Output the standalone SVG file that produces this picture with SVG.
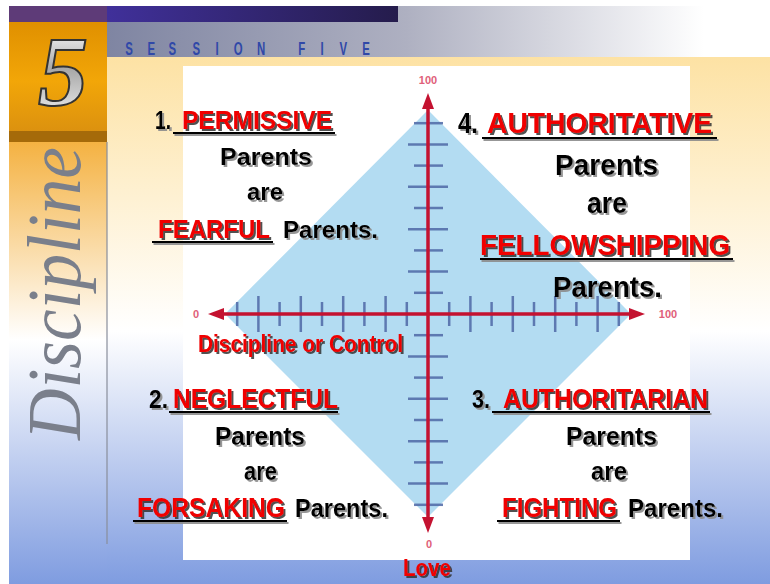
<svg xmlns="http://www.w3.org/2000/svg" width="770" height="584" viewBox="0 0 770 584">
<defs>
<linearGradient id="gMain" x1="0" y1="57" x2="0" y2="584" gradientUnits="userSpaceOnUse">
<stop offset="0" stop-color="#fde2a4"/><stop offset="0.52" stop-color="#ffffff"/><stop offset="1" stop-color="#7f9ce0"/>
</linearGradient>
<linearGradient id="gSide" x1="0" y1="140" x2="0" y2="584" gradientUnits="userSpaceOnUse">
<stop offset="0" stop-color="#f4b140"/><stop offset="0.45" stop-color="#ffffff"/><stop offset="1" stop-color="#7f9ce0"/>
</linearGradient>
<linearGradient id="gGray" x1="107" y1="0" x2="770" y2="0" gradientUnits="userSpaceOnUse">
<stop offset="0" stop-color="#7f85a2"/><stop offset="0.45" stop-color="#aeb0c1"/><stop offset="0.9" stop-color="#ffffff"/>
</linearGradient>
<linearGradient id="gPurp" x1="107" y1="0" x2="398" y2="0" gradientUnits="userSpaceOnUse">
<stop offset="0" stop-color="#40309a"/><stop offset="1" stop-color="#251c4c"/>
</linearGradient>
<linearGradient id="gOrange" x1="0" y1="22" x2="0" y2="140" gradientUnits="userSpaceOnUse">
<stop offset="0" stop-color="#e09000"/><stop offset="0.5" stop-color="#f2a608"/><stop offset="1" stop-color="#d88e10"/>
</linearGradient>
<linearGradient id="gSilver" x1="0" y1="30" x2="0" y2="108" gradientUnits="userSpaceOnUse">
<stop offset="0" stop-color="#f4f4f4"/><stop offset="0.5" stop-color="#a8a8a8"/><stop offset="1" stop-color="#e0e0e0"/>
</linearGradient>
<filter id="shR" x="-5%" y="-20%" width="115%" height="160%">
<feDropShadow dx="2" dy="2" stdDeviation="0.5" flood-color="#333333" flood-opacity="0.85"/>
</filter>
<filter id="shK" x="-5%" y="-20%" width="115%" height="160%">
<feDropShadow dx="2" dy="2" stdDeviation="0.6" flood-color="#8c8c8c" flood-opacity="0.9"/>
</filter>
<filter id="shU" filterUnits="userSpaceOnUse" x="0" y="0" width="770" height="584">
<feDropShadow dx="1.5" dy="2" stdDeviation="0.5" flood-color="#8c8c8c" flood-opacity="0.9"/>
</filter>
<marker id="arr" viewBox="0 0 16 12" refX="0" refY="6" markerWidth="16" markerHeight="12" markerUnits="userSpaceOnUse" orient="auto-start-reverse">
<path d="M0,0 L16,6 L0,12 z" fill="#c41230"/>
</marker>
<style>
.r{font-family:"Liberation Sans Narrow","Liberation Sans",Arial,sans-serif;font-weight:bold;fill:#f00000;filter:url(#shR)}
.k{font-family:"Liberation Sans Narrow","Liberation Sans",Arial,sans-serif;font-weight:bold;fill:#000000;filter:url(#shK)}
.ul{fill:#000000;filter:url(#shU)}
.num{font-family:"Liberation Sans Narrow","Liberation Sans",Arial,sans-serif;font-weight:bold;fill:#e0607a;font-size:11px;text-anchor:middle}
.tk{stroke:#4d67a6;stroke-width:2.5;stroke-opacity:0.85}
.ax{stroke:#c41230;stroke-width:3.5;marker-start:url(#arr);marker-end:url(#arr)}
</style>
</defs>

<g id="background">
<rect x="0" y="0" width="770" height="584" fill="#ffffff"/>
<rect x="107" y="57" width="663" height="527" fill="url(#gMain)"/>
<rect x="9" y="140" width="98" height="444" fill="url(#gSide)"/>
<rect x="107" y="6" width="663" height="51" fill="url(#gGray)"/>
<rect x="9" y="6" width="98" height="16" fill="#5e3b78"/>
<rect x="107" y="6" width="291" height="16" fill="url(#gPurp)"/>
<rect x="9" y="22" width="98" height="110" fill="url(#gOrange)"/>
<rect x="9" y="131" width="98" height="11" fill="#a56a0a"/>
<line x1="107" y1="142" x2="107" y2="544" stroke="#8a8f9c" stroke-width="1.5" stroke-opacity="0.8"/>
<rect x="183" y="66" width="507" height="494" fill="#ffffff"/>
</g>

<g id="header">
<text transform="scale(0.6,1)" x="215 252 287 327 362 397 435 468 503 537 572 610" y="55" font-family="'Liberation Sans Narrow','Liberation Sans',Arial,sans-serif" font-weight="bold" font-size="19" fill="#3048a8" text-anchor="middle">SESSION FIVE</text>
<text x="63" y="105" font-family="'Liberation Serif','Times New Roman',serif" font-style="italic" font-weight="bold" font-size="100" fill="url(#gSilver)" stroke="#333333" stroke-width="2" text-anchor="middle">5</text>
</g>

<g id="sidebar">
<text transform="translate(80,440) rotate(-90)" x="0" y="0" font-family="'Liberation Serif','Times New Roman',serif" font-style="italic" font-size="76" fill="#7a7f8b" textLength="293" lengthAdjust="spacingAndGlyphs">Discipline</text>
</g>

<g id="chart">
<polygon points="428,110 631,314 428,517 225,314" fill="#b3dcf2"/>
<g id="ticks-h">
<line class="tk" x1="237.2" y1="302" x2="237.2" y2="326"/>
<line class="tk" x1="258.4" y1="296" x2="258.4" y2="332"/>
<line class="tk" x1="279.6" y1="302" x2="279.6" y2="326"/>
<line class="tk" x1="300.8" y1="296" x2="300.8" y2="332"/>
<line class="tk" x1="322" y1="302" x2="322" y2="326"/>
<line class="tk" x1="343.2" y1="296" x2="343.2" y2="332"/>
<line class="tk" x1="364.4" y1="302" x2="364.4" y2="326"/>
<line class="tk" x1="385.6" y1="296" x2="385.6" y2="332"/>
<line class="tk" x1="406.8" y1="302" x2="406.8" y2="326"/>
<line class="tk" x1="449.2" y1="302" x2="449.2" y2="326"/>
<line class="tk" x1="470.4" y1="296" x2="470.4" y2="332"/>
<line class="tk" x1="491.6" y1="302" x2="491.6" y2="326"/>
<line class="tk" x1="512.8" y1="296" x2="512.8" y2="332"/>
<line class="tk" x1="534" y1="302" x2="534" y2="326"/>
<line class="tk" x1="555.2" y1="296" x2="555.2" y2="332"/>
<line class="tk" x1="576.4" y1="302" x2="576.4" y2="326"/>
<line class="tk" x1="597.6" y1="296" x2="597.6" y2="332"/>
<line class="tk" x1="618.8" y1="302" x2="618.8" y2="326"/>
</g>
<g id="ticks-v">
<line class="tk" x1="414" y1="123.2" x2="443" y2="123.2"/>
<line class="tk" x1="408" y1="144.4" x2="448" y2="144.4"/>
<line class="tk" x1="414" y1="165.6" x2="443" y2="165.6"/>
<line class="tk" x1="408" y1="186.8" x2="448" y2="186.8"/>
<line class="tk" x1="414" y1="208" x2="443" y2="208"/>
<line class="tk" x1="408" y1="229.2" x2="448" y2="229.2"/>
<line class="tk" x1="414" y1="250.4" x2="443" y2="250.4"/>
<line class="tk" x1="408" y1="271.6" x2="448" y2="271.6"/>
<line class="tk" x1="414" y1="292.8" x2="443" y2="292.8"/>
<line class="tk" x1="414" y1="335.2" x2="443" y2="335.2"/>
<line class="tk" x1="408" y1="356.4" x2="448" y2="356.4"/>
<line class="tk" x1="414" y1="377.6" x2="443" y2="377.6"/>
<line class="tk" x1="408" y1="398.8" x2="448" y2="398.8"/>
<line class="tk" x1="414" y1="420" x2="443" y2="420"/>
<line class="tk" x1="408" y1="441.2" x2="448" y2="441.2"/>
<line class="tk" x1="414" y1="462.4" x2="443" y2="462.4"/>
<line class="tk" x1="408" y1="483.6" x2="448" y2="483.6"/>
<line class="tk" x1="414" y1="504.8" x2="443" y2="504.8"/>
</g>
</g>

<g id="connectors">
<line class="ax" x1="224" y1="314" x2="629" y2="314"/>
<line class="ax" x1="428" y1="109" x2="428" y2="517"/>
</g>

<g id="axis-labels">
<text class="num" x="428" y="84">100</text>
<text class="num" x="196" y="318">0</text>
<text class="num" x="668" y="318">100</text>
<text class="num" x="429" y="548" font-size="10">0</text>
<text class="r" x="198" y="352" font-size="23" textLength="205" lengthAdjust="spacingAndGlyphs">Discipline or Control</text>
<text class="r" x="403" y="576" font-size="24" textLength="48" lengthAdjust="spacingAndGlyphs">Love</text>
</g>

<g id="q1">
<rect class="ul" x="173" y="132" width="162" height="2"/>
<rect class="ul" x="152" y="241" width="121" height="2"/>
<text class="k" x="155" y="129" font-size="26" textLength="16" lengthAdjust="spacingAndGlyphs">1.</text>
<text class="r" x="182" y="129" font-size="26" textLength="150" lengthAdjust="spacingAndGlyphs">PERMISSIVE</text>
<text class="k" x="220" y="165" font-size="24" textLength="92" lengthAdjust="spacingAndGlyphs">Parents</text>
<text class="k" x="247" y="200" font-size="24" textLength="36" lengthAdjust="spacingAndGlyphs">are</text>
<text class="r" x="158" y="238" font-size="26" textLength="112" lengthAdjust="spacingAndGlyphs">FEARFUL</text>
<text class="k" x="283" y="238" font-size="24" textLength="95" lengthAdjust="spacingAndGlyphs">Parents.</text>
</g>

<g id="q4">
<rect class="ul" x="482" y="137" width="235" height="2"/>
<rect class="ul" x="480" y="258" width="253" height="2"/>
<text class="k" x="458" y="133" font-size="30" textLength="20" lengthAdjust="spacingAndGlyphs">4.</text>
<text class="r" x="487" y="133" font-size="30" textLength="225" lengthAdjust="spacingAndGlyphs">AUTHORITATIVE</text>
<text class="k" x="555" y="175" font-size="30" textLength="103" lengthAdjust="spacingAndGlyphs">Parents</text>
<text class="k" x="587" y="213" font-size="30" textLength="40" lengthAdjust="spacingAndGlyphs">are</text>
<text class="r" x="480" y="255" font-size="30" textLength="250" lengthAdjust="spacingAndGlyphs">FELLOWSHIPPING</text>
<text class="k" x="553" y="297" font-size="30" textLength="109" lengthAdjust="spacingAndGlyphs">Parents.</text>
</g>

<g id="q2">
<rect class="ul" x="169" y="411" width="169" height="2"/>
<rect class="ul" x="133" y="520" width="154" height="2"/>
<text class="k" x="149" y="408" font-size="26" textLength="19" lengthAdjust="spacingAndGlyphs">2.</text>
<text class="r" x="173" y="408" font-size="27" textLength="165" lengthAdjust="spacingAndGlyphs">NEGLECTFUL</text>
<text class="k" x="215" y="445" font-size="25" textLength="90" lengthAdjust="spacingAndGlyphs">Parents</text>
<text class="k" x="244" y="480" font-size="25" textLength="33" lengthAdjust="spacingAndGlyphs">are</text>
<text class="r" x="137" y="517" font-size="27" textLength="148" lengthAdjust="spacingAndGlyphs">FORSAKING</text>
<text class="k" x="295" y="517" font-size="25" textLength="93" lengthAdjust="spacingAndGlyphs">Parents.</text>
</g>

<g id="q3">
<rect class="ul" x="492" y="411" width="218" height="2"/>
<rect class="ul" x="497" y="520" width="123" height="2"/>
<text class="k" x="472" y="408" font-size="26" textLength="18" lengthAdjust="spacingAndGlyphs">3.</text>
<text class="r" x="503" y="408" font-size="27" textLength="205" lengthAdjust="spacingAndGlyphs">AUTHORITARIAN</text>
<text class="k" x="566" y="445" font-size="25" textLength="91" lengthAdjust="spacingAndGlyphs">Parents</text>
<text class="k" x="591" y="480" font-size="25" textLength="36" lengthAdjust="spacingAndGlyphs">are</text>
<text class="r" x="502" y="517" font-size="27" textLength="115" lengthAdjust="spacingAndGlyphs">FIGHTING</text>
<text class="k" x="628" y="517" font-size="25" textLength="95" lengthAdjust="spacingAndGlyphs">Parents.</text>
</g>
</svg>
